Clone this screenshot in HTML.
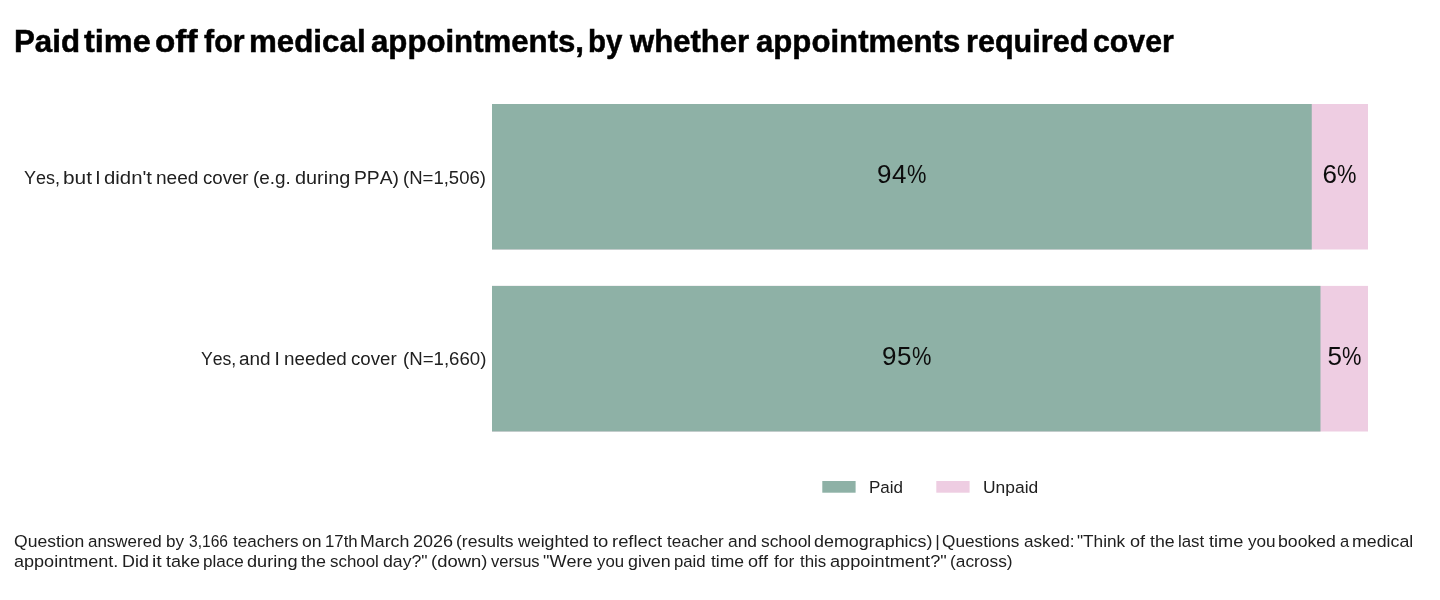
<!DOCTYPE html>
<html><head><meta charset="utf-8">
<style>
html,body{margin:0;padding:0;background:#fff;}
body{width:1440px;height:600px;position:relative;overflow:hidden;font-family:"Liberation Sans",sans-serif;color:#202020;}
h1,p{margin:0;padding:0;font-size:inherit;font-weight:inherit;}
.t{position:absolute;white-space:nowrap;line-height:1;transform-origin:0 0;font-kerning:none;}
h1 .t{-webkit-text-stroke:0.5px #000;}
.val{font-size:26px;color:#0c0c0c;letter-spacing:.5px;}
.pc{display:inline-block;transform:scaleX(.84);transform-origin:0 50%;}
</style></head><body>
<svg width="1440" height="600" viewBox="0 0 1440 600" style="position:absolute;left:0;top:0">
<rect x="492" y="104" width="876" height="145.5" fill="#eecde2"/>
<rect x="492" y="104" width="819.75" height="145.5" fill="#8eb1a6"/>
<rect x="492" y="285.9" width="876" height="145.6" fill="#eecde2"/>
<rect x="492" y="285.9" width="828.5" height="145.6" fill="#8eb1a6"/>
<rect x="822.3" y="481" width="33.3" height="11.7" fill="#8eb1a6"/>
<rect x="936.3" y="481" width="33.3" height="11.7" fill="#eecde2"/>
</svg>
<h1><span class="t " style="left:13.51px;top:25.96px;font-size:31px;transform:scaleX(1.0090);font-weight:bold;color:#000;">Paid</span>
<span class="t " style="left:84.00px;top:25.96px;font-size:31px;transform:scaleX(1.0465);font-weight:bold;color:#000;">time</span>
<span class="t " style="left:154.95px;top:25.96px;font-size:31px;transform:scaleX(1.0733);font-weight:bold;color:#000;">off</span>
<span class="t " style="left:203.68px;top:25.96px;font-size:31px;transform:scaleX(0.9808);font-weight:bold;color:#000;">for</span>
<span class="t " style="left:248.94px;top:25.96px;font-size:31px;transform:scaleX(1.0098);font-weight:bold;color:#000;">medical</span>
<span class="t " style="left:370.79px;top:25.96px;font-size:31px;transform:scaleX(1.0055);font-weight:bold;color:#000;">appointments,</span>
<span class="t " style="left:588.46px;top:25.96px;font-size:31px;transform:scaleX(0.9500);font-weight:bold;color:#000;">by</span>
<span class="t " style="left:630.49px;top:25.96px;font-size:31px;transform:scaleX(1.0027);font-weight:bold;color:#000;">whether</span>
<span class="t " style="left:756.19px;top:25.96px;font-size:31px;transform:scaleX(1.0052);font-weight:bold;color:#000;">appointments</span>
<span class="t " style="left:965.88px;top:25.96px;font-size:31px;transform:scaleX(0.9867);font-weight:bold;color:#000;">required</span>
<span class="t " style="left:1093.42px;top:25.96px;font-size:31px;transform:scaleX(0.9767);font-weight:bold;color:#000;">cover</span></h1>
<div class="ylab"><span class="t " style="left:23.90px;top:167.65px;font-size:19.2px;transform:scaleX(0.9374);">Yes,</span>
<span class="t " style="left:62.86px;top:167.65px;font-size:19.2px;transform:scaleX(1.0864);">but</span>
<span class="t " style="left:95.23px;top:167.65px;font-size:19.2px;transform:scaleX(1.0000);">I</span>
<span class="t " style="left:103.85px;top:167.65px;font-size:19.2px;transform:scaleX(1.0597);">didn't</span>
<span class="t " style="left:156.23px;top:167.65px;font-size:19.2px;transform:scaleX(0.9950);">need</span>
<span class="t " style="left:202.61px;top:167.65px;font-size:19.2px;transform:scaleX(0.9713);">cover</span>
<span class="t " style="left:253.43px;top:167.65px;font-size:19.2px;transform:scaleX(0.9866);">(e.g.</span>
<span class="t " style="left:295.42px;top:167.65px;font-size:19.2px;transform:scaleX(1.0355);">during</span>
<span class="t " style="left:354.02px;top:167.65px;font-size:19.2px;transform:scaleX(1.0060);">PPA)</span>
<span class="t " style="left:403.45px;top:167.65px;font-size:19.2px;transform:scaleX(0.9661);">(N=1,506)</span></div>
<div class="ylab"><span class="t " style="left:201.11px;top:348.65px;font-size:19.2px;transform:scaleX(0.9181);">Yes,</span>
<span class="t " style="left:239.19px;top:348.65px;font-size:19.2px;transform:scaleX(0.9873);">and</span>
<span class="t " style="left:274.38px;top:348.65px;font-size:19.2px;transform:scaleX(1.0000);">I</span>
<span class="t " style="left:283.55px;top:348.65px;font-size:19.2px;transform:scaleX(0.9812);">needed</span>
<span class="t " style="left:351.31px;top:348.65px;font-size:19.2px;transform:scaleX(0.9735);">cover</span>
<span class="t " style="left:403.04px;top:348.65px;font-size:19.2px;transform:scaleX(0.9709);">(N=1,660)</span></div>
<p class="foot"><span class="t " style="left:14.17px;top:532.87px;font-size:17.4px;transform:scaleX(1.0090);">Question</span>
<span class="t " style="left:87.98px;top:532.87px;font-size:17.4px;transform:scaleX(0.9757);">answered</span>
<span class="t " style="left:166.20px;top:532.87px;font-size:17.4px;transform:scaleX(0.9813);">by</span>
<span class="t " style="left:188.71px;top:532.87px;font-size:17.4px;transform:scaleX(0.8952);">3,166</span>
<span class="t " style="left:233.04px;top:532.87px;font-size:17.4px;transform:scaleX(0.9808);">teachers</span>
<span class="t " style="left:302.36px;top:532.87px;font-size:17.4px;transform:scaleX(1.0107);">on</span>
<span class="t " style="left:324.72px;top:532.87px;font-size:17.4px;transform:scaleX(0.9640);">17th</span>
<span class="t " style="left:360.04px;top:532.87px;font-size:17.4px;transform:scaleX(1.0217);">March</span>
<span class="t " style="left:412.59px;top:532.87px;font-size:17.4px;transform:scaleX(1.0354);">2026</span>
<span class="t " style="left:456.01px;top:532.87px;font-size:17.4px;transform:scaleX(1.0080);">(results</span>
<span class="t " style="left:518.13px;top:532.87px;font-size:17.4px;transform:scaleX(1.0179);">weighted</span>
<span class="t " style="left:592.82px;top:532.87px;font-size:17.4px;transform:scaleX(1.0580);">to</span>
<span class="t " style="left:611.68px;top:532.87px;font-size:17.4px;transform:scaleX(1.0580);">reflect</span>
<span class="t " style="left:666.84px;top:532.87px;font-size:17.4px;transform:scaleX(0.9790);">teacher</span>
<span class="t " style="left:727.86px;top:532.87px;font-size:17.4px;transform:scaleX(1.0003);">and</span>
<span class="t " style="left:760.52px;top:532.87px;font-size:17.4px;transform:scaleX(0.9986);">school</span>
<span class="t " style="left:814.05px;top:532.87px;font-size:17.4px;transform:scaleX(1.0300);">demographics)</span>
<span class="t " style="left:935.15px;top:532.87px;font-size:17.4px;transform:scaleX(1.0000);">|</span>
<span class="t " style="left:942.48px;top:532.87px;font-size:17.4px;transform:scaleX(0.9895);">Questions</span>
<span class="t " style="left:1023.87px;top:532.87px;font-size:17.4px;transform:scaleX(0.9866);">asked:</span>
<span class="t " style="left:1077.37px;top:532.87px;font-size:17.4px;transform:scaleX(0.9889);">&quot;Think</span>
<span class="t " style="left:1130.04px;top:532.87px;font-size:17.4px;transform:scaleX(1.0416);">of</span>
<span class="t " style="left:1150.13px;top:532.87px;font-size:17.4px;transform:scaleX(1.0185);">the</span>
<span class="t " style="left:1178.06px;top:532.87px;font-size:17.4px;transform:scaleX(0.9691);">last</span>
<span class="t " style="left:1209.12px;top:532.87px;font-size:17.4px;transform:scaleX(1.0454);">time</span>
<span class="t " style="left:1247.86px;top:532.87px;font-size:17.4px;transform:scaleX(0.9860);">you</span>
<span class="t " style="left:1278.46px;top:532.87px;font-size:17.4px;transform:scaleX(1.0153);">booked</span>
<span class="t " style="left:1339.80px;top:532.87px;font-size:17.4px;transform:scaleX(0.9500);">a</span>
<span class="t " style="left:1351.82px;top:532.87px;font-size:17.4px;transform:scaleX(1.0219);">medical</span>
<span class="t " style="left:14.23px;top:552.97px;font-size:17.4px;transform:scaleX(1.0379);">appointment.</span>
<span class="t " style="left:121.93px;top:552.97px;font-size:17.4px;transform:scaleX(1.0314);">Did</span>
<span class="t " style="left:151.80px;top:552.97px;font-size:17.4px;transform:scaleX(1.1200);">it</span>
<span class="t " style="left:165.73px;top:552.97px;font-size:17.4px;transform:scaleX(1.0360);">take</span>
<span class="t " style="left:202.60px;top:552.97px;font-size:17.4px;transform:scaleX(0.9818);">place</span>
<span class="t " style="left:247.14px;top:552.97px;font-size:17.4px;transform:scaleX(1.0444);">during</span>
<span class="t " style="left:301.43px;top:552.97px;font-size:17.4px;transform:scaleX(1.0315);">the</span>
<span class="t " style="left:330.33px;top:552.97px;font-size:17.4px;transform:scaleX(0.9719);">school</span>
<span class="t " style="left:382.56px;top:552.97px;font-size:17.4px;transform:scaleX(1.0175);">day?&quot;</span>
<span class="t " style="left:430.56px;top:552.97px;font-size:17.4px;transform:scaleX(1.0598);">(down)</span>
<span class="t " style="left:490.94px;top:552.97px;font-size:17.4px;transform:scaleX(0.9490);">versus</span>
<span class="t " style="left:543.43px;top:552.97px;font-size:17.4px;transform:scaleX(1.0356);">&quot;Were</span>
<span class="t " style="left:597.26px;top:552.97px;font-size:17.4px;transform:scaleX(0.9637);">you</span>
<span class="t " style="left:627.65px;top:552.97px;font-size:17.4px;transform:scaleX(1.0268);">given</span>
<span class="t " style="left:674.22px;top:552.97px;font-size:17.4px;transform:scaleX(0.9624);">paid</span>
<span class="t " style="left:711.13px;top:552.97px;font-size:17.4px;transform:scaleX(1.0083);">time</span>
<span class="t " style="left:748.34px;top:552.97px;font-size:17.4px;transform:scaleX(1.0407);">off</span>
<span class="t " style="left:774.15px;top:552.97px;font-size:17.4px;transform:scaleX(1.0015);">for</span>
<span class="t " style="left:799.84px;top:552.97px;font-size:17.4px;transform:scaleX(0.9700);">this</span>
<span class="t " style="left:830.03px;top:552.97px;font-size:17.4px;transform:scaleX(1.0462);">appointment?&quot;</span>
<span class="t " style="left:950.18px;top:552.97px;font-size:17.4px;transform:scaleX(0.9962);">(across)</span></p>
<div class="legend"><span class="t " style="left:868.80px;top:478.97px;font-size:17.4px;transform:scaleX(0.9790);">Paid</span>
<span class="t " style="left:982.85px;top:478.97px;font-size:17.4px;transform:scaleX(1.0024);">Unpaid</span></div>
<div id="v1" class="t val" style="left:877px;top:161px">94<span class="pc">%</span></div>
<div id="v2" class="t val" style="left:1322.5px;top:161px">6<span class="pc">%</span></div>
<div id="v3" class="t val" style="left:882px;top:343px">95<span class="pc">%</span></div>
<div id="v4" class="t val" style="left:1327.5px;top:343px">5<span class="pc">%</span></div>
</body></html>
